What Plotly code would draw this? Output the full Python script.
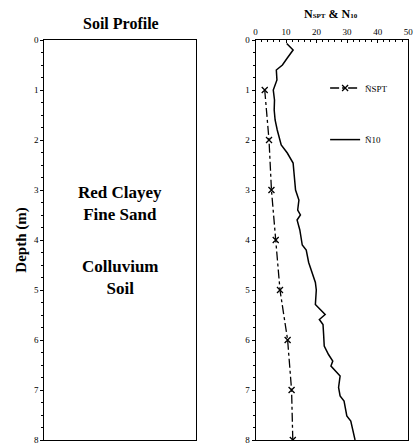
import plotly.graph_objects as go

# SPT blow counts (corrected mean) vs depth
spt_depth = [1, 2, 3, 4, 5, 6, 7, 8]
spt_n = [3.0, 4.4, 5.2, 6.6, 8.0, 10.5, 11.8, 12.2]

# N10 (DCP) profile vs depth
n10_depth = [0.07, 0.2, 0.36, 0.5, 0.6, 0.8, 1.0, 1.2, 1.4, 1.6, 1.8, 2.0, 2.1, 2.26,
             2.46, 3.0, 3.2, 3.4, 3.5, 3.6, 3.8, 4.1, 4.2, 4.45, 4.65, 4.85, 5.0,
             5.29, 5.39, 5.49, 5.59, 5.69, 5.89, 6.12, 6.29, 6.42, 6.52, 6.72,
             6.95, 7.12, 7.22, 7.52, 7.62, 8.0]
n10_val = [10.2, 12.3, 10.4, 8.8, 6.8, 7.0, 5.8, 6.2, 6.1, 6.4, 7.1, 8.0, 8.4, 10.4,
           12.3, 13.1, 14.2, 13.8, 14.7, 13.6, 14.5, 15.3, 16.6, 17.4, 18.5, 19.6, 19.9,
           19.6, 21.2, 22.8, 20.9, 22.1, 22.3, 22.5, 23.9, 25.3, 24.7, 27.7,
           27.2, 27.7, 29.0, 29.9, 31.2, 32.6]

depth_ticks = [0, 1, 2, 3, 4, 5, 6, 7, 8]
n_ticks = [0, 10, 20, 30, 40, 50]

# soil description blocks and the depth they are centred on
soil_labels = ["Red Clayey<br>Fine Sand", "Colluvium<br>Soil"]
soil_label_depths = [3.27, 4.74]

FONT = "Liberation Serif, Times New Roman, Times, serif"
INK = "black"

fig = go.Figure()

# dash-dot SPT line with cross markers
fig.add_trace(go.Scatter(
    x=spt_n, y=spt_depth, xaxis="x2", yaxis="y2",
    mode="lines+markers", name="N\u0304SPT", legend="legend",
    line=dict(color=INK, width=1.3, dash="dashdot"),
    marker=dict(symbol="x-thin", size=6, line=dict(color=INK, width=1.3)),
))

# solid N10 line
fig.add_trace(go.Scatter(
    x=n10_val, y=n10_depth, xaxis="x2", yaxis="y2",
    mode="lines", name="N\u030410", legend="legend2",
    line=dict(color=INK, width=1.5),
))

axis_common = dict(
    showline=True, linecolor=INK, linewidth=1, mirror=True,
    showgrid=False, zeroline=False, ticklabeloverflow="allow",
    tickfont=dict(family=FONT, size=9, color=INK),
)

yaxis_common = dict(
    axis_common,
    range=[8, 0], tickvals=depth_ticks, ticks="outside", ticklen=3,
    tickcolor=INK, minor=dict(dtick=0.25, ticks="outside", ticklen=2, tickcolor=INK),
)

fig.update_layout(
    font=dict(family=FONT, color=INK),
    xaxis=dict(axis_common, domain=[0.1034, 0.4736], range=[0, 1],
               showticklabels=False, ticks=""),
    yaxis=dict(yaxis_common, domain=[0, 1], anchor="x"),
    xaxis2=dict(axis_common, domain=[0.62, 0.993], range=[0, 50], side="top",
                anchor="y2", tickvals=n_ticks, ticks="inside", ticklen=3, tickcolor=INK,
                minor=dict(dtick=2, ticks="inside", ticklen=2, tickcolor=INK)),
    yaxis2=dict(yaxis_common, domain=[0, 1], anchor="x2"),
    legend=dict(x=0.79, y=0.88, xanchor="left", yanchor="middle",
                font=dict(family=FONT, size=9, color=INK), bgcolor="rgba(0,0,0,0)"),
    legend2=dict(x=0.79, y=0.751, xanchor="left", yanchor="middle",
                 font=dict(family=FONT, size=9, color=INK), bgcolor="rgba(0,0,0,0)"),
    width=416, height=445,
    margin=dict(l=0, r=0, t=40, b=4),
    plot_bgcolor="white", paper_bgcolor="white",
    showlegend=True,
)

# titles
fig.add_annotation(text="<b>Soil Profile</b>", x=121 / 416, y=1.0 + 17 / 401,
                   xref="paper", yref="paper", showarrow=False,
                   xanchor="center", yanchor="middle",
                   font=dict(family=FONT, size=16, color=INK))

fig.add_annotation(
    text="<b>N<span style='font-size:7px'>SPT</span> &amp; N<span style='font-size:7px'>10</span></b>",
    x=335 / 416, y=1.0 + 26 / 401, xref="paper", yref="paper", showarrow=False,
    xanchor="center", yanchor="middle", font=dict(family=FONT, size=12, color=INK))

fig.add_annotation(text="<b>Depth (m)</b>", x=19 / 416, y=0.5, xref="paper", yref="paper",
                   showarrow=False, textangle=-90, xanchor="center", yanchor="middle",
                   font=dict(family=FONT, size=15, color=INK))

# soil description text in the profile column
for label, d in zip(soil_labels, soil_label_depths):
    fig.add_annotation(text=f"<b>{label}</b>", x=0.5, y=d, xref="x", yref="y",
                       showarrow=False, xanchor="center", yanchor="middle",
                       font=dict(family=FONT, size=17, color=INK))

fig.write_html(
    "out.html",
    config={"displayModeBar": False},
    post_script="document.body.style.margin='0';document.body.style.overflow='hidden';",
)
